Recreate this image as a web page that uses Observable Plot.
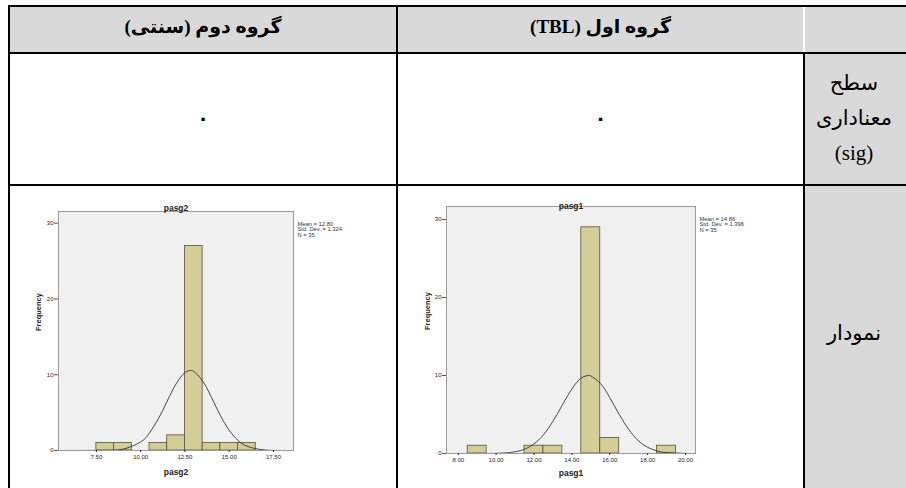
<!DOCTYPE html>
<html>
<head>
<meta charset="utf-8">
<script src="https://cdn.jsdelivr.net/npm/d3@7"></script>
<script src="https://cdn.jsdelivr.net/npm/@observablehq/plot@0.6"></script>
<style>
  html, body { margin: 0; padding: 0; background: #fff; }
  #page { position: relative; width: 906px; height: 488px; overflow: hidden; background: #fff; }
  .abs { position: absolute; }
  .line { position: absolute; background: #000; }
  .hdr { position: absolute; direction: rtl; text-align: center; font-family: "Liberation Serif", "DejaVu Sans", serif; font-weight: bold; font-size: 19px; color: #000; }
  .lbl { position: absolute; direction: rtl; text-align: center; font-family: "Liberation Serif", "DejaVu Sans", serif; font-size: 21px; color: #000; white-space: nowrap; }
  .plotbox { position: absolute; }
</style>
</head>
<body>
<div id="page"></div>
<script>
// ---------- data ----------
const headers = ["گروه دوم (سنتی)", "گروه اول (TBL)"];
const sigLabelLines = ["سطح", "معناداری", "(sig)"];
const chartLabel = "نمودار";
const sigValues = ["۰", "۰"];

// group 2 (pasg2) histogram
const binStart2 = [7.5, 8.5, 10.5, 11.5, 12.5, 13.5, 14.5, 15.5];
const count2 = [1, 1, 1, 2, 27, 1, 1, 1];
const curveX2 = [6.5, 8, 9, 10, 10.5, 11, 11.5, 12, 12.5, 12.8, 13, 13.5, 14, 14.5, 15, 15.5, 16, 17, 18.5];
const curveY2 = [0, 0.02, 0.17, 1.13, 2.33, 4.19, 6.52, 8.79, 10.28, 10.55, 10.43, 9.17, 7.0, 4.63, 2.66, 1.32, 0.57, 0.07, 0];
const stats2 = ["Mean = 12.80", "Std. Dev. = 1.324", "N = 35"];
const xTicks2 = [7.5, 10, 12.5, 15, 17.5];

// group 1 (pasg1) histogram
const binStart1 = [8.5, 11.5, 12.5, 14.5, 15.5, 18.5];
const count1 = [1, 1, 1, 29, 2, 1];
const curveX1 = [8, 10, 11, 11.5, 12, 12.5, 13, 13.5, 14, 14.5, 14.86, 15, 15.5, 16, 16.5, 17, 17.5, 18, 18.5, 19, 20, 20.5];
const curveY1 = [0, 0.02, 0.22, 0.55, 1.23, 2.40, 4.12, 6.23, 8.27, 9.68, 10.0, 9.95, 9.0, 7.17, 5.02, 3.09, 1.67, 0.80, 0.33, 0.12, 0.01, 0];
const stats1 = ["Mean = 14.86", "Std. Dev. = 1.396", "N = 35"];
const xTicks1 = [8, 10, 12, 14, 16, 18, 20];

const yTicks = [0, 10, 20, 30];

// ---------- table layout ----------
const page = document.getElementById("page");
function box(cls, x, y, w, h, style = {}) {
  const d = document.createElement("div");
  d.className = cls;
  Object.assign(d.style, {left: x + "px", top: y + "px", width: w + "px", height: h + "px"}, style);
  page.appendChild(d);
  return d;
}
// gray backgrounds
box("abs", 10, 7, 896, 46, {background: "#d9d9d9"});
box("abs", 805, 54, 101, 434, {background: "#d9d9d9"});
// lines
box("line", 8, 5, 898, 2);
box("line", 8, 5, 2, 483);
box("line", 8, 52, 898, 2);
box("line", 396, 5, 2, 483);
box("abs", 803, 7, 2, 45, {background: "#fff"});
box("line", 803, 52, 2, 436);
box("line", 8, 184, 898, 2);

// header texts
const hdrCols = [[10, 386], [398, 405]];
headers.forEach((t, i) => {
  const d = box("hdr", hdrCols[i][0], 15, hdrCols[i][1], 30);
  d.textContent = t;
});
// sig values
sigValues.forEach((t, i) => {
  const d = box("hdr", hdrCols[i][0], 107, hdrCols[i][1], 30);
  d.textContent = t;
});
// row labels
sigLabelLines.forEach((t, i) => {
  const d = box("lbl", 805, 71 + i * 35, 98, 30);
  d.textContent = t;
});
box("lbl", 805, 321, 98, 30).textContent = chartLabel;

// ---------- histograms ----------
function hist({binStart, count, curveX, curveY, stats, xTicks, name, xDomain, yMax,
               left, top, width, height, mL, mR, mT, mB, titleDy, yLabDx, xLabDy}) {
  const bins = binStart.map((b, i) => ({x0: b, x1: b + 1, n: count[i]}));
  const curve = curveX.map((x, i) => ({x, y: curveY[i]}));
  const svg = Plot.plot({
    width, height, marginLeft: mL, marginRight: mR, marginTop: mT, marginBottom: mB,
    x: {domain: xDomain},
    y: {domain: [0, yMax]},
    style: {fontFamily: "'Liberation Sans', Arial, sans-serif", fontSize: "6px", background: "transparent", color: "#222"},
    marks: [
      Plot.frame({fill: "#f0f0f0"}),
      Plot.rectY(bins, {x1: "x0", x2: "x1", y: "n", fill: "#d3ce97", stroke: "#55533f", strokeWidth: 0.8}),
      Plot.line(curve, {x: "x", y: "y", stroke: "#333", strokeWidth: 0.9, curve: "natural"}),
      Plot.frame({stroke: "#9a9a9a", strokeWidth: 1}),
      Plot.axisY({ticks: yTicks, tickSize: 4, tickPadding: 1, fontSize: 6, label: null, stroke: "#555"}),
      Plot.axisX({ticks: xTicks, tickFormat: d3.format(".2f"), tickSize: 2, tickPadding: 2, fontSize: 6, label: null}),
      Plot.text([name], {frameAnchor: "top", dy: titleDy, fontWeight: "bold", fontSize: 8.5, fill: "#222"}),
      Plot.text(["Frequency"], {frameAnchor: "left", rotate: -90, dx: yLabDx, fontWeight: "bold", fontSize: 7.5, fill: "#222"}),
      Plot.text([name], {frameAnchor: "bottom", dy: xLabDy, fontWeight: "bold", fontSize: 8.5, fill: "#222"}),
      Plot.text([stats.join("\n")], {frameAnchor: "top-right", dx: 4, dy: 11, textAnchor: "start", lineAnchor: "top", lineHeight: 0.9, fontSize: 5.8, fill: "#333"})
    ]
  });
  const wrap = box("plotbox", left, top, width, height);
  wrap.appendChild(svg);
}

hist({binStart: binStart2, count: count2, curveX: curveX2, curveY: curveY2, stats: stats2, xTicks: xTicks2,
      name: "pasg2", xDomain: [5.36, 18.63], yMax: 31.54,
      left: 10, top: 190, width: 380, height: 296, mL: 48, mR: 97, mT: 21, mB: 36,
      titleDy: -7, yLabDx: -20, xLabDy: 24});
hist({binStart: binStart1, count: count1, curveX: curveX1, curveY: curveY1, stats: stats1, xTicks: xTicks1,
      name: "pasg1", xDomain: [7.38, 20.53], yMax: 31.67,
      left: 400, top: 190, width: 400, height: 296, mL: 46, mR: 105, mT: 16, mB: 33,
      titleDy: -4, yLabDx: -19, xLabDy: 22});
</script>
</body>
</html>
